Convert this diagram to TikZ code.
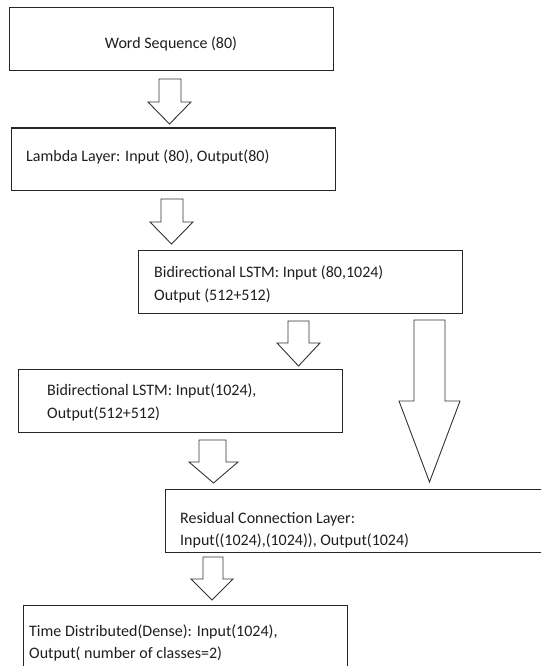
\documentclass[tikz,border=0pt]{standalone}
\usepackage{fontspec}
\setmainfont{Carlito}
\begin{document}
\begin{tikzpicture}[x=1pt,y=-1pt,
  layerbox/.style={draw=black!85, line width=1pt, fill=white, inner sep=0pt},
  label/.style={anchor=base west, inner sep=0pt, text=black!88, font=\fontsize{16}{22.5}\selectfont},
  blockarrow/.style={draw=black!80, line width=0.9pt, fill=white, line join=miter}]
\useasboundingbox (0,0) rectangle (541,666);
\clip (0,0) rectangle (541,666);

% layer boxes
\draw[layerbox] (9,8) rectangle (333,71) coordinate (b1);
\draw[layerbox] (11,128) rectangle (335,190) coordinate (b2);
\draw[layerbox] (138,250) rectangle (462,313) coordinate (b3);
\draw[layerbox] (18,369) rectangle (342,432) coordinate (b4);
\draw[layerbox] (165,489) rectangle (560,552) coordinate (b5);
\draw[layerbox] (23,605) rectangle (347,690) coordinate (b6);

% layer texts
\node[label, anchor=base] (t1) at (171,49) {Word Sequence (80)};
\node[label] (t2) at (26,161) {Lambda Layer: Input (80), Output(80)};
\node[label] (t3a) at (154,277) {Bidirectional LSTM: Input (80,1024)};
\node[label] (t3b) at (154,300) {Output (512+512)};
\node[label] (t4a) at (47,395) {Bidirectional LSTM: Input(1024),};
\node[label] (t4b) at (47,418) {Output(512+512)};
\node[label] (t5a) at (180,523) {Residual Connection Layer:};
\node[label] (t5b) at (180,545) {Input((1024),(1024)), Output(1024)};
\node[label] (t6a) at (29,636) {Time Distributed(Dense): Input(1024),};
\node[label] (t6b) at (29,658) {Output( number of classes=2)};

% block arrows: shaft left/right, head left/right, top, neck, tip
\newcommand\blockarr[7]{%
  \draw[blockarrow] (#1,#5) -- (#1,#6) -- (#3,#6) -- ({(#3+#4)/2},#7)
    -- (#4,#6) -- (#2,#6) -- (#2,#5) -- cycle;}
\blockarr{159}{181}{148}{191}{79}{102}{124}
\blockarr{161}{183}{150}{193}{199}{222}{244}
\blockarr{288}{309}{277}{320}{321}{343}{366}
\blockarr{414}{445}{399}{460}{320}{401}{482}
\blockarr{199}{226}{189}{238}{440}{462}{483}
\blockarr{203}{223}{191}{233}{557}{579}{600}
\end{tikzpicture}
\end{document}
